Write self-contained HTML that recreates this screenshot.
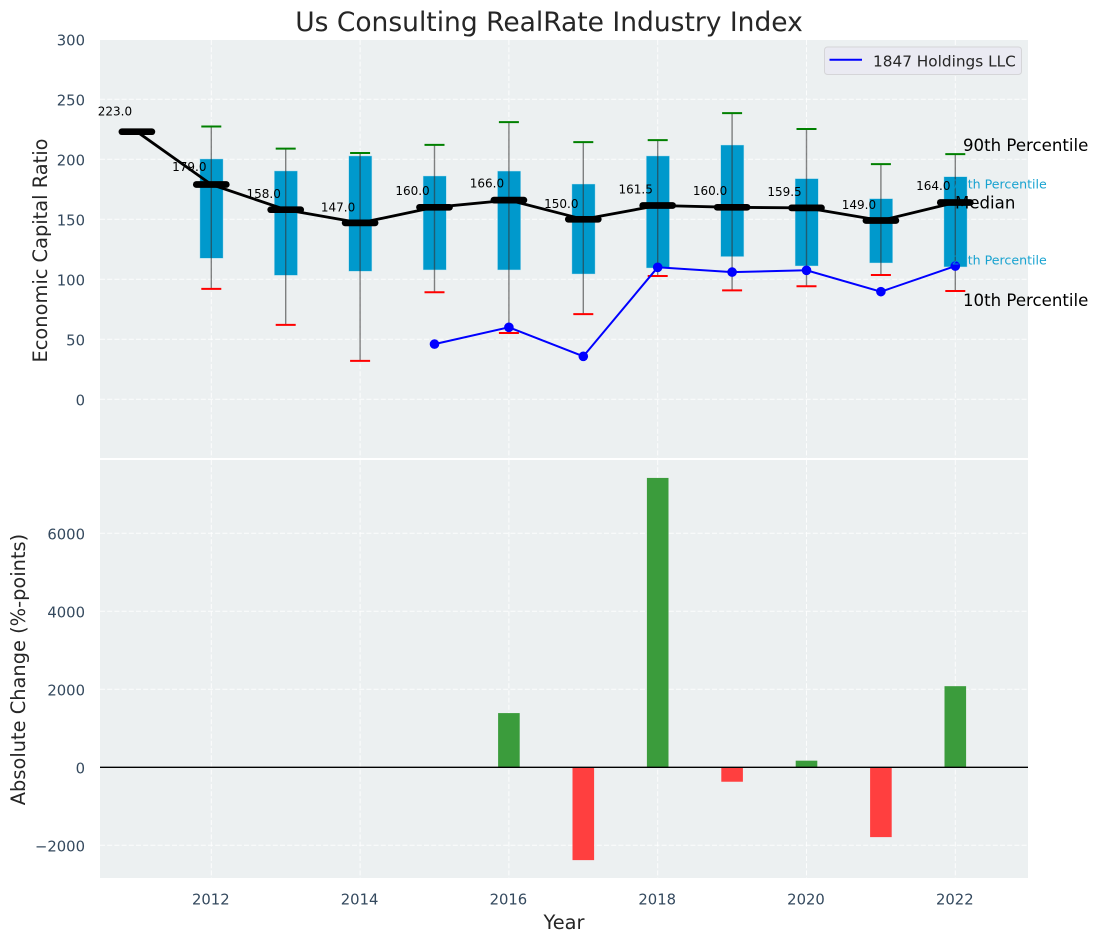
<!DOCTYPE html>
<html lang="en">
<head>
<meta charset="utf-8">
<title>Us Consulting RealRate Industry Index</title>
<style>
html,body{margin:0;padding:0;background:#fff;}
svg{display:block;font-family:"DejaVu Sans","Liberation Sans",sans-serif;}
</style>
</head>
<body>
<svg id="chart" xmlns="http://www.w3.org/2000/svg" width="1098" height="942" viewBox="0 0 1098 942">
  <rect x="0" y="0" width="1098" height="942" fill="#ffffff"/>
  <text x="549" y="31" text-anchor="middle" font-size="26.5px" fill="#262626">Us Consulting RealRate Industry Index</text>
  <rect x="100" y="40" width="928" height="418" fill="#ecf0f1"/>
  <rect x="100" y="460" width="928" height="418" fill="#ecf0f1"/>
  <g id="grid"></g>
  <g id="ticks"></g>
  <g id="boxes"></g>
  <g id="whiskers"></g>
  <g id="medians"></g>
  <g id="company"></g>
  <g id="bars"></g>
  <line x1="100" x2="1028" y1="767.3" y2="767.3" stroke="#000000" stroke-width="1.4"/>
  <text transform="translate(47 250.5) rotate(-90)" text-anchor="middle" font-size="19.4px" fill="#262626">Economic Capital Ratio</text>
  <text transform="translate(25 669.5) rotate(-90)" text-anchor="middle" font-size="19.4px" fill="#262626">Absolute Change (%-points)</text>
  <text x="564" y="929" text-anchor="middle" font-size="19.4px" fill="#262626">Year</text>
  <text x="963" y="151" font-size="16.6px" fill="#000000">90th Percentile</text>
  <text x="951.7" y="188.5" font-size="12.6px" fill="#0099cc" fill-opacity="0.9">75th Percentile</text>
  <text x="955" y="208.5" font-size="16.6px" fill="#000000">Median</text>
  <text x="951.7" y="264.5" font-size="12.6px" fill="#0099cc" fill-opacity="0.9">25th Percentile</text>
  <text x="963" y="306" font-size="16.6px" fill="#000000">10th Percentile</text>
  <g>
    <rect x="824.5" y="47" width="197" height="27.5" rx="3" fill="#eaeaf2" stroke="#d5d5d8" stroke-width="1"/>
    <line x1="829.5" x2="862" y1="59.7" y2="59.7" stroke="#0000ff" stroke-width="2"/>
    <text x="873" y="66.3" font-size="15.3px" fill="#262626">1847 Holdings LLC</text>
  </g>
</svg>
<script>
const years = [2011,2012,2013,2014,2015,2016,2017,2018,2019,2020,2021,2022];
const medianValues = [223,179,158,147,160,166,150,161.5,160,159.5,149,164];
const p90Values = [null,227.3,208.9,205.3,212,231,214.3,216,238.5,225.2,196,204.3];
const p75Values = [null,200.3,190.3,202.8,186.1,190.2,179.4,202.8,211.9,183.9,167.2,185.5];
const p25Values = [null,117.5,103.3,106.7,107.8,107.8,104.4,109.4,118.9,111.1,113.6,110.3];
const p10Values = [null,92,62,32,89.2,55.3,71,102.8,90.8,94.2,103.6,90.2];
const companyValues = [null,null,null,null,46,60,35.8,110,106,107.5,89.7,111];
const changeValues = [null,null,null,null,null,1390,-2380,7420,-370,170,-1790,2080];
const xTickLabels = [2012,2014,2016,2018,2020,2022];
const topTickLabels = [0,50,100,150,200,250,300];
const bottomTickLabels = [-2000,0,2000,4000,6000];

const NS = 'http://www.w3.org/2000/svg';
const xScale = v => 211.3 + (v - 2012) * 74.4;
const yTop = v => 399.3 - v * 1.2;
const yBottom = v => 767.3 - v * 0.039;
function mk(tag, attrs, parentId) {
  const el = document.createElementNS(NS, tag);
  for (const k in attrs) el.setAttribute(k, attrs[k]);
  document.getElementById(parentId).appendChild(el);
  return el;
}
const tickColor = '#34495e';
const tickSize = '14.8px';
const dash = '5 2.2';

xTickLabels.forEach(t => {
  [[40,458],[460,878]].forEach(r => {
    const g = mk('line', {x1:xScale(t), x2:xScale(t), y1:r[0], y2:r[1], stroke:'#fff', 'stroke-width':1, 'stroke-dasharray':dash, 'stroke-opacity':0.85}, 'grid');
    
    
  });
  const l = mk('text', {x:xScale(t)-0.5, y:904.5, 'text-anchor':'middle', 'font-size':tickSize, fill:tickColor}, 'ticks');
  l.textContent = t;
  
  
});
topTickLabels.forEach(t => {
  const g = mk('line', {x1:100, x2:1028, y1:yTop(t), y2:yTop(t), stroke:'#fff', 'stroke-width':1, 'stroke-dasharray':dash, 'stroke-opacity':0.85}, 'grid');
  
  
  const l = mk('text', {x:85, y:yTop(t)+6, 'text-anchor':'end', 'font-size':tickSize, fill:tickColor}, 'ticks');
  l.textContent = t;
  
  
});
bottomTickLabels.forEach(t => {
  const g = mk('line', {x1:100, x2:1028, y1:yBottom(t), y2:yBottom(t), stroke:'#fff', 'stroke-width':1, 'stroke-dasharray':dash, 'stroke-opacity':0.85}, 'grid');
  
  
  const l = mk('text', {x:85, y:yBottom(t)+6, 'text-anchor':'end', 'font-size':tickSize, fill:tickColor}, 'ticks');
  l.textContent = String(t).replace('-', '\u2212');
  
  
});

years.forEach((yr, i) => {
  if (p75Values[i] === null) return;
  const cx = xScale(yr);
  const b = mk('rect', {x:cx-11.4, width:23.2, y:yTop(p75Values[i]), height:yTop(p25Values[i])-yTop(p75Values[i]), fill:'#0099cc', stroke:'#bfe6f2', 'stroke-width':0.6, 'stroke-opacity':0.7}, 'boxes');
  
  
  const w = mk('line', {x1:cx, x2:cx, y1:yTop(p90Values[i]), y2:yTop(p10Values[i]), stroke:'#333333', 'stroke-opacity':0.6, 'stroke-width':1.4}, 'whiskers');
  
  
  const hi = mk('line', {x1:cx-10, x2:cx+10, y1:yTop(p90Values[i]), y2:yTop(p90Values[i]), stroke:'#008000', 'stroke-width':2}, 'whiskers');
  
  
  const lo = mk('line', {x1:cx-10, x2:cx+10, y1:yTop(p10Values[i]), y2:yTop(p10Values[i]), stroke:'#ff0000', 'stroke-width':2}, 'whiskers');
  
  
});

const medianPath = mk('polyline', {points:years.map((yr,i)=>xScale(yr)+','+yTop(medianValues[i])).join(' '), fill:'none', stroke:'#000', 'stroke-width':2.8, 'stroke-linejoin':'round'}, 'medians');


years.forEach((yr, i) => {
  const cx = xScale(yr), cy = yTop(medianValues[i]);
  const m = mk('line', {x1:cx-15, x2:cx+15, y1:cy, y2:cy, stroke:'#000', 'stroke-width':6.7, 'stroke-linecap':'round'}, 'medians');
  
  
  const t = mk('text', {x:cx-22, y:yTop(medianValues[i]*1.055)-1.5, 'text-anchor':'middle', 'font-size':'12px', fill:'#000'}, 'medians');
  t.textContent = medianValues[i].toFixed(1);
  
  
});

const companyPoints = years.map((yr,i)=>companyValues[i]===null?null:xScale(yr)+','+yTop(companyValues[i])).filter(Boolean).join(' ');
const companyLine = mk('polyline', {points:companyPoints, fill:'none', stroke:'#0000ff', 'stroke-width':2}, 'company');


years.forEach((yr, i) => {
  if (companyValues[i] === null) return;
  const c = mk('circle', {cx:xScale(yr), cy:yTop(companyValues[i]), r:4.8, fill:'#0000ff'}, 'company');
  
  
});

years.forEach((yr, i) => {
  const v = changeValues[i];
  if (v === null) return;
  const top = v >= 0 ? yBottom(v) : yBottom(0);
  const r = mk('rect', {x:xScale(yr)-10.8, width:21.6, y:top, height:Math.abs(yBottom(v)-yBottom(0)), fill:v>=0?'#3b9c3c':'#ff3f3f'}, 'bars');
  
  
});
</script>
</body>
</html>
